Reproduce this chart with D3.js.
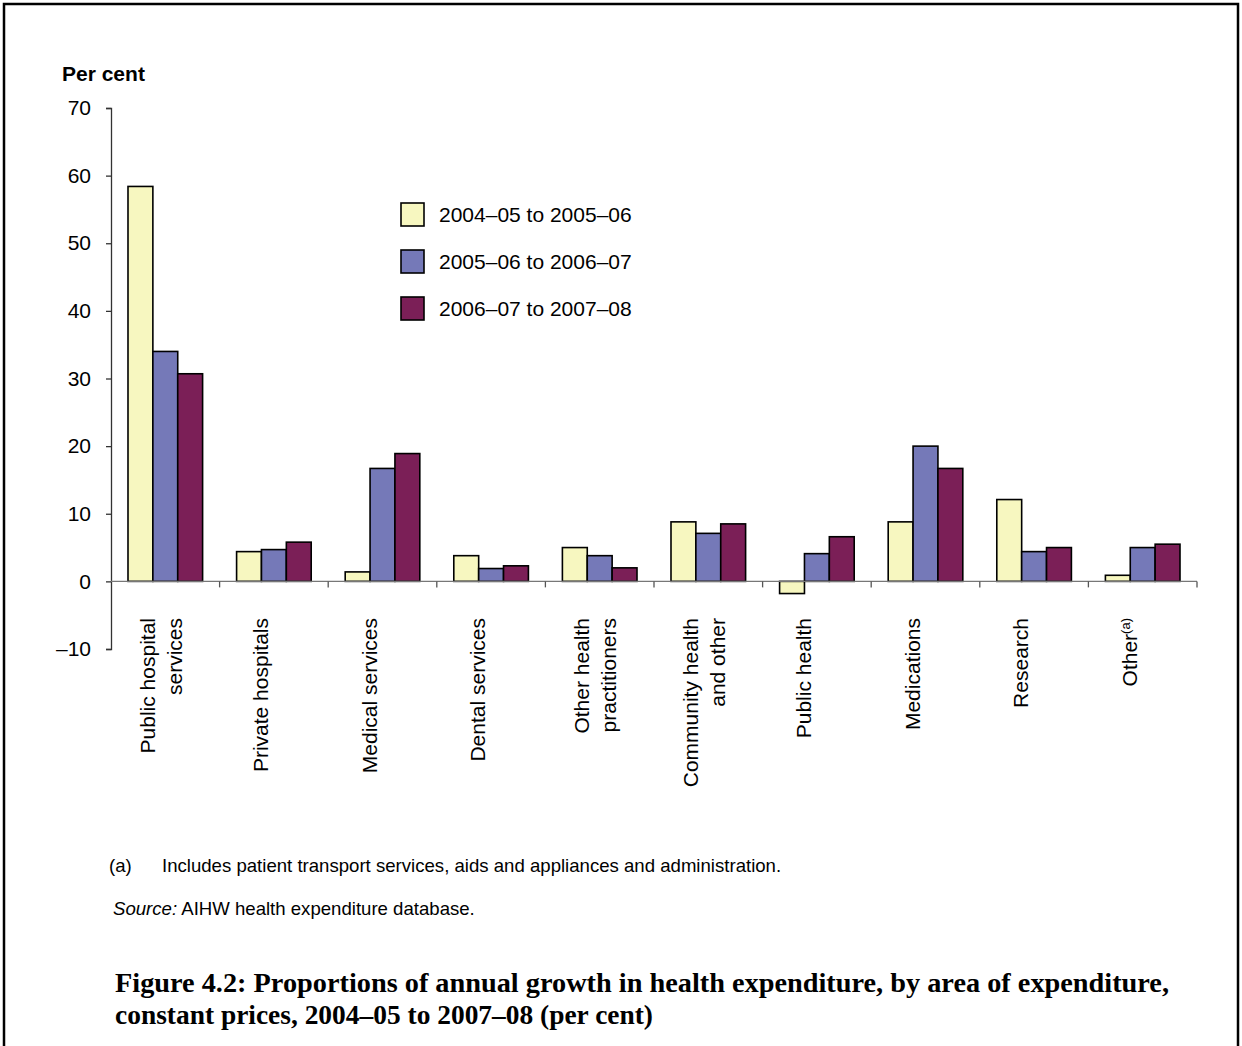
<!DOCTYPE html>
<html>
<head>
<meta charset="utf-8">
<script src="https://cdn.jsdelivr.net/npm/d3@7"></script>
<style>
  body { margin: 0; background: #fff; }
  svg text { font-family: "Liberation Sans", Arial, sans-serif; fill: #000; }
</style>
</head>
<body>
<div id="chart"></div>
<script>
// data
var categories = [
    ["Public hospital", "services"],
    ["Private hospitals"],
    ["Medical services"],
    ["Dental services"],
    ["Other health", "practitioners"],
    ["Community health", "and other"],
    ["Public health"],
    ["Medications"],
    ["Research"],
    ["Other"]
];
var seriesNames = ["2004–05 to 2005–06", "2005–06 to 2006–07", "2006–07 to 2007–08"];
var growth0405 = [58.4, 4.4, 1.4, 3.8, 5.0, 8.8, -1.8, 8.8, 12.1, 0.9];
var growth0506 = [34.0, 4.7, 16.7, 1.9, 3.8, 7.1, 4.1, 20.0, 4.4, 5.0];
var growth0607 = [30.7, 5.8, 18.9, 2.3, 2.0, 8.5, 6.6, 16.7, 5.0, 5.5];
var yTicks = [-10, 0, 10, 20, 30, 40, 50, 60, 70];
var yTickLabels = ["–10", "0", "10", "20", "30", "40", "50", "60", "70"];
var colors = ["#f7f7c0", "#7579b8", "#7b1f57"];

var svgWidth = 1242;
var svgHeight = 1046;

var svg = d3.select("#chart").append("svg").attr("width", svgWidth).attr("height", svgHeight);

// outer frame
svg.append("rect")
    .attr("x", 4).attr("y", 4)
    .attr("width", 1234).attr("height", 1060)
    .attr("fill", "none").attr("stroke", "#000").attr("stroke-width", 2.5);

var catIds = categories.map((c, i) => i);
var allSeries = [growth0405, growth0506, growth0607];

var x0 = d3.scaleBand().domain(catIds).range([111, 1197]).paddingInner(0.313).paddingOuter(0.1565);
var x1 = d3.scaleBand().domain(d3.range(seriesNames.length)).range([0, x0.bandwidth()]);
var y = d3.scaleLinear().domain([-10, 70]).range([649, 108]);

// y axis
var leftAxis = d3.axisLeft(y).tickValues(yTicks).tickSize(5).tickPadding(15)
    .tickFormat((d, i) => yTickLabels[i]);
var yAxis = svg.append("g").attr("transform", "translate(111,0)").call(leftAxis);
yAxis.select(".domain").attr("stroke", "#333").attr("stroke-width", 1.3);
yAxis.selectAll(".tick line").attr("stroke", "#333").attr("stroke-width", 1.3);
yAxis.selectAll(".tick text").style("font-size", "21px").style("font-family", "Liberation Sans, Arial, sans-serif").attr("fill", "#000");

// y axis title
svg.append("text").attr("x", 62).attr("y", 81)
    .style("font-size", "21px").style("font-weight", "bold")
    .text("Per cent");

// bars
var groups = svg.append("g").selectAll("g")
    .data(catIds)
    .enter().append("g")
    .attr("transform", d => `translate(${x0(d)},0)`);

groups.selectAll("rect")
    .data(d => allSeries.map((s, j) => ({ j: j, v: s[d] })))
    .enter().append("rect")
    .attr("x", d => x1(d.j))
    .attr("width", x1.bandwidth())
    .attr("y", d => y(Math.max(0, d.v)))
    .attr("height", d => Math.abs(y(d.v) - y(0)))
    .attr("fill", d => colors[d.j])
    .attr("stroke", "#000")
    .attr("stroke-width", 1.6);

// x axis line and category boundary ticks
var gap = (x0.step() - x0.bandwidth()) / 2;
svg.append("line")
    .attr("x1", 111).attr("x2", 1197)
    .attr("y1", y(0)).attr("y2", y(0))
    .attr("stroke", "#777").attr("stroke-width", 1.3);
svg.append("g").selectAll("line")
    .data(catIds)
    .enter().append("line")
    .attr("x1", d => x0(d) + x0.bandwidth() + gap)
    .attr("x2", d => x0(d) + x0.bandwidth() + gap)
    .attr("y1", y(0)).attr("y2", y(0) + 6)
    .attr("stroke", "#555").attr("stroke-width", 1.3);

// category labels (rotated)
var labelGroups = svg.append("g").selectAll("g")
    .data(categories)
    .enter().append("g")
    .attr("transform", (d, i) => `translate(${x0(i) + x0.bandwidth() / 2 - (d.length > 1 ? 4 : 13)},618) rotate(-90)`);

labelGroups.each(function(lines) {
    var g = d3.select(this);
    var n = lines.length;
    lines.forEach(function(line, k) {
        var t = g.append("text")
            .attr("x", 0)
            .attr("y", (k - (n - 1) / 2) * 27 + 7)
            .attr("text-anchor", "end")
            .style("font-size", "21px")
            .text(line);
        if (line === "Other") {
            t.append("tspan").attr("baseline-shift", "super").style("font-size", "13px").text("(a)");
        }
    });
});

// legend
var legend = svg.append("g").selectAll("g")
    .data(seriesNames)
    .enter().append("g")
    .attr("transform", (d, i) => `translate(401,${203 + i * 47})`);
legend.append("rect")
    .attr("width", 23).attr("height", 23)
    .attr("fill", (d, i) => colors[i])
    .attr("stroke", "#000").attr("stroke-width", 1.6);
legend.append("text")
    .attr("x", 38).attr("y", 19)
    .style("font-size", "21px")
    .text(d => d);

// notes
svg.append("text").attr("x", 109).attr("y", 872).style("font-size", "18.6px").text("(a)");
svg.append("text").attr("x", 162).attr("y", 872).style("font-size", "18.6px")
    .text("Includes patient transport services, aids and appliances and administration.");
var src = svg.append("text").attr("x", 113).attr("y", 915).style("font-size", "18.6px");
src.append("tspan").style("font-style", "italic").text("Source:");
src.append("tspan").text(" AIHW health expenditure database.");

// figure title
var title = svg.append("g");
title.append("text").attr("x", 115).attr("y", 992)
    .style("font-family", "Liberation Serif, serif")
    .style("font-size", "27px").style("font-weight", "bold")
    .attr("textLength", 1054).attr("lengthAdjust", "spacingAndGlyphs")
    .text("Figure 4.2: Proportions of annual growth in health expenditure, by area of expenditure,");
title.append("text").attr("x", 115).attr("y", 1024)
    .style("font-family", "Liberation Serif, serif")
    .style("font-size", "27px").style("font-weight", "bold")
    .attr("textLength", 538).attr("lengthAdjust", "spacingAndGlyphs")
    .text("constant prices, 2004–05 to 2007–08 (per cent)");
</script>
</body>
</html>
